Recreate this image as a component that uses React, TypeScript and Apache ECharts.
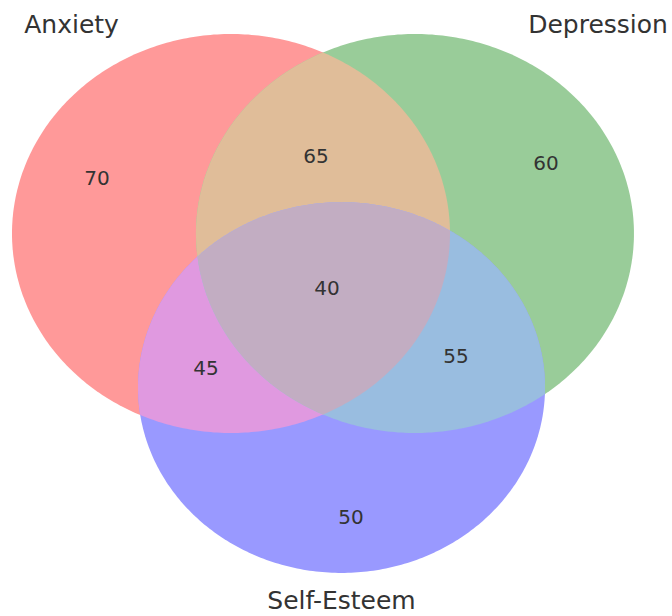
import React, { useEffect, useRef } from "react";
import * as echarts from "echarts";

// ---- data ----
const setNames = ["Anxiety", "Depression", "Self-Esteem"];
// region keys: A only, B only, A&B, C only, A&C, B&C, A&B&C
const regionKeys = ["100", "010", "110", "001", "101", "011", "111"];
const regionValues = [70, 60, 65, 50, 45, 55, 40];

// ---- layout (venn geometry in data units) ----
const circleCenters: [number, number][] = [
  [0, 0],
  [0.84, 0],
  [0.5046, -0.772],
];
const circleRadii = [1, 1, 0.9293];
const regionLabelPos: [number, number][] = [
  [-0.612, 0.278],
  [1.438, 0.353],
  [0.388, 0.388],
  [0.548, -1.421],
  [-0.114, -0.674],
  [1.027, -0.614],
  [0.438, -0.273],
];
const setLabelPos: [number, number][] = [
  [-0.728, 1.05],
  [1.676, 1.05],
  [0.5046, -1.842],
];

// ---- styles ----
const regionColors: Record<string, string> = {
  "100": "rgb(255,153,153)",
  "010": "rgb(153,204,153)",
  "001": "rgb(153,153,255)",
  "110": "rgb(224,189,153)",
  "101": "rgb(224,153,224)",
  "011": "rgb(153,189,224)",
  "111": "rgb(194,173,194)",
};
const FONT = "DejaVu Sans";
const TEXT_COLOR = "#333";

type P = [number, number];

function area(poly: P[]) {
  let s = 0;
  for (let i = 0; i < poly.length; i++) {
    const a = poly[i];
    const b = poly[(i + 1) % poly.length];
    s += a[0] * b[1] - b[0] * a[1];
  }
  return s / 2;
}

function clip(subject: P[], clipPoly: P[]): P[] {
  const sign = area(clipPoly) > 0 ? 1 : -1;
  let output = subject.slice();
  const n = clipPoly.length;
  for (let i = 0; i < n && output.length; i++) {
    const a = clipPoly[i];
    const b = clipPoly[(i + 1) % n];
    const side = (p: P) =>
      (b[0] - a[0]) * (p[1] - a[1]) - (b[1] - a[1]) * (p[0] - a[0]);
    const inside = (p: P) => sign * side(p) >= 0;
    const inter = (p: P, q: P): P => {
      const d1 = side(p);
      const d2 = side(q);
      const t = d1 / (d1 - d2);
      return [p[0] + (q[0] - p[0]) * t, p[1] + (q[1] - p[1]) * t];
    };
    const input = output;
    output = [];
    for (let j = 0; j < input.length; j++) {
      const cur = input[j];
      const prev = input[(j - 1 + input.length) % input.length];
      if (inside(cur)) {
        if (!inside(prev)) output.push(inter(prev, cur));
        output.push(cur);
      } else if (inside(prev)) {
        output.push(inter(prev, cur));
      }
    }
  }
  return output;
}

export default function App() {
  const ref = useRef<HTMLDivElement>(null);
  useEffect(() => {
    document.body.style.margin = "0";
    if (!ref.current) return;
    const chart = echarts.init(ref.current, null, { renderer: "svg" });
    const renderItem = (params: any, api: any) => {
      const N = 400;
      const polys: P[][] = circleCenters.map((c, k) => {
        const pts: P[] = [];
        for (let i = 0; i < N; i++) {
          const t = (i / N) * Math.PI * 2;
          const p = api.coord([
            c[0] + circleRadii[k] * Math.cos(t),
            c[1] + circleRadii[k] * Math.sin(t),
          ]);
          pts.push([p[0], p[1]]);
        }
        return pts;
      });
      const [A, B, C] = polys;
      const AB = clip(A, B);
      const AC = clip(A, C);
      const BC = clip(B, C);
      const ABC = clip(AB, C);
      const shapes: [P[], string][] = [
        [A, "100"],
        [B, "010"],
        [C, "001"],
        [AB, "110"],
        [AC, "101"],
        [BC, "011"],
        [ABC, "111"],
      ];
      const children: any[] = shapes.map(([pts, key]) => ({
        type: "polygon",
        shape: { points: pts },
        style: { fill: regionColors[key], stroke: null },
        silent: true,
      }));
      regionKeys.forEach((key, i) => {
        const p = api.coord(regionLabelPos[i]);
        children.push({
          type: "text",
          x: p[0],
          y: p[1],
          style: {
            text: String(regionValues[i]),
            fill: TEXT_COLOR,
            font: `20px "${FONT}"`,
            align: "center",
            verticalAlign: "middle",
          },
        });
      });
      setNames.forEach((name, i) => {
        const p = api.coord(setLabelPos[i]);
        children.push({
          type: "text",
          x: p[0],
          y: p[1],
          style: {
            text: name,
            fill: TEXT_COLOR,
            font: `25px "${FONT}"`,
            align: "center",
            verticalAlign: "middle",
          },
        });
      });
      return { type: "group", children };
    };
    chart.setOption({
      animation: false,
      grid: { left: 1.05, top: 4.075, width: 667.95, height: 608.475 },
      xAxis: { type: "value", min: -1.05, max: 2.0, show: false },
      yAxis: { type: "value", min: -1.9, max: 1.15, show: false },
      series: [
        {
          type: "custom",
          renderItem,
          data: [[0, 0]],
          silent: true,
          clip: false,
        },
      ],
    });
    return () => chart.dispose();
  }, []);
  return <div ref={ref} style={{ width: 672, height: 616 }} />;
}
